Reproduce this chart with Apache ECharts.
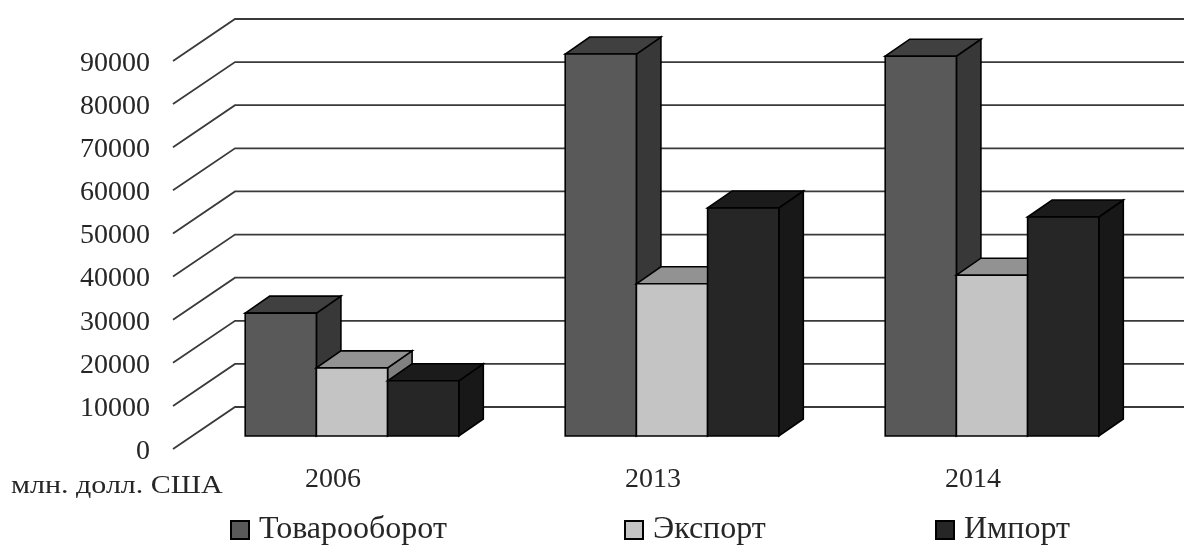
<!DOCTYPE html>
<html><head><meta charset="utf-8">
<style>html,body{margin:0;padding:0;background:#fff}#c{width:1184px;height:545px}</style>
<script src="https://cdn.jsdelivr.net/npm/echarts@6/dist/echarts.min.js"></script>
</head><body><div id="c"></div>
<script>
const categories = ['2006', '2013', '2014'];
const turnover = [28500, 88600, 88100];
const exportsVals = [15800, 35300, 37300];
const importsVals = [12800, 52900, 50800];
const yTicks = [0,10000,20000,30000,40000,50000,60000,70000,80000,90000];
const seriesNames = ['Товарооборот', 'Экспорт', 'Импорт'];
const unitLabel = 'млн. долл. США';
const FONT = '"Liberation Serif", "Times New Roman", serif';
const TEXT = '#262626';

const chart = echarts.init(document.getElementById('c'), null, {renderer:'canvas'});
const BW = 71.2, MIDX = 19, MIDY = 13, DX = 24.5, DY = 17, BACKX = 62, BACKY = 42;
const palette = [
  {front:'#595959', top:'#404040', side:'#383838'},
  {front:'#c4c4c4', top:'#929292', side:'#808080'},
  {front:'#262626', top:'#1b1b1b', side:'#181818'}
];
const edge = {stroke:'#000', lineWidth:1.6, lineJoin:'miter'};

function barSeries(name, values, idx) {
  const c = palette[idx];
  return {
    name, type:'custom', coordinateSystem:'cartesian2d', z:3+idx, silent:true,
    itemStyle:{color:c.front, borderColor:'#000', borderWidth:1.5},
    data: values.map((v,i)=>[i,v]),
    encode:{x:0,y:1},
    renderItem(params, api){
      const top = api.coord([api.value(0), api.value(1)]);
      const base = api.coord([api.value(0), 0]);
      const x0 = top[0] + MIDX + (idx-1.5)*BW, x1 = x0 + BW;
      const yt = top[1] - MIDY, yb = base[1] - MIDY;
      const poly = (pts, fill)=>({type:'polygon', shape:{points:pts}, style:Object.assign({fill}, edge)});
      return {type:'group', children:[
        poly([[x1,yt],[x1+DX,yt-DY],[x1+DX,yb-DY],[x1,yb]], c.side),
        poly([[x0,yt],[x0+DX,yt-DY],[x1+DX,yt-DY],[x1,yt]], c.top),
        poly([[x0,yt],[x1,yt],[x1,yb],[x0,yb]], c.front)
      ]};
    }
  };
}

const legendPos = [230, 624, 935];
chart.setOption({
  animation:false,
  backgroundColor:'#fff',
  grid:{left:173, width:960, top:61, height:388, containLabel:false},
  xAxis:{type:'category', data:categories, axisLine:{show:false}, axisTick:{show:false},
    axisLabel:{fontFamily:FONT, fontSize:28, color:TEXT, margin:17}},
  yAxis:{type:'value', min:0, max:90000, interval:10000, splitLine:{show:false},
    axisLine:{show:false}, axisTick:{show:false},
    axisLabel:{fontFamily:FONT, fontSize:28, color:TEXT, margin:23, verticalAlign:'top', lineHeight:5,
      showMinLabel:true, showMaxLabel:true, hideOverlap:false,
      formatter:(v)=>String(v)}},
  legend: seriesNames.map((n,i)=>({
    data:[n], left:legendPos[i], top:514, orient:'horizontal', icon:'rect',
    itemWidth:18, itemHeight:18, itemGap:0, padding:0, selectedMode:false,
    textStyle:{fontFamily:FONT, fontSize:32, color:TEXT, padding:[6,0,0,5]}
  })),
  graphic:[{type:'text', x:11, y:474, scaleX:1.2, style:{text:unitLabel, font:'25px '+FONT, fill:TEXT}}],
  series:[
    {name:'grid', type:'custom', coordinateSystem:'cartesian2d', z:1, silent:true,
     data:yTicks.map(v=>[0,v]), encode:{x:0,y:1},
     renderItem(params, api){
       const y = api.coord([0, api.value(1)])[1];
       const cs = params.coordSys;
       return {type:'polyline', shape:{points:[[cs.x,y],[cs.x+BACKX,y-BACKY],[cs.x+cs.width+BACKX,y-BACKY]]},
         style:{stroke:'#3a3a3a', lineWidth:1.8, fill:null}};
     }},
    barSeries(seriesNames[0], turnover, 0),
    barSeries(seriesNames[1], exportsVals, 1),
    barSeries(seriesNames[2], importsVals, 2)
  ]
});
</script></body></html>
